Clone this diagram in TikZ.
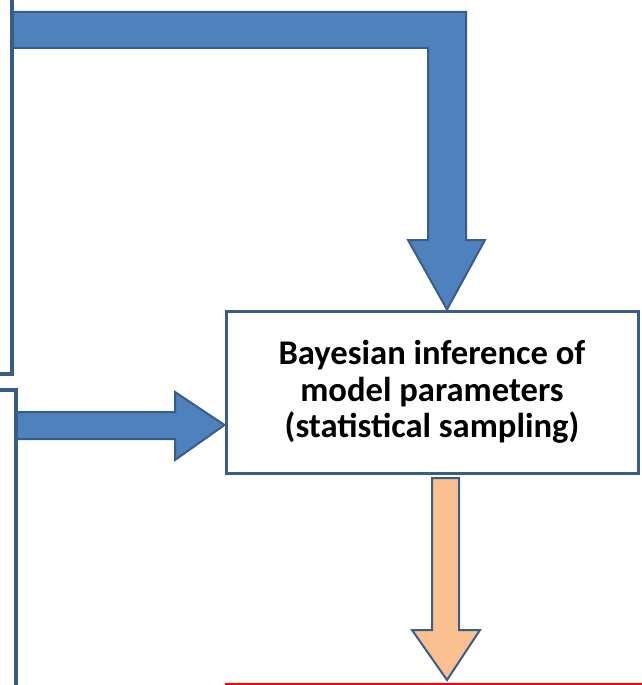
\documentclass[tikz,border=0pt]{standalone}
\usepackage{fontspec}
\setmainfont{Carlito}
\definecolor{arrowblue}{HTML}{4F81BD}
\definecolor{edgeblue}{HTML}{385D8A}
\definecolor{arroworange}{HTML}{FAC090}
\definecolor{redline}{HTML}{FF0000}
\begin{document}
\begin{tikzpicture}[x=1pt,y=-1pt,
  blockarrow/.style={fill=arrowblue,draw=edgeblue,line width=2pt,line join=miter},
  orangearrow/.style={fill=arroworange,draw=edgeblue,line width=2pt,line join=miter},
  framebox/.style={draw=edgeblue,line width=3pt,fill=white},
  partbox/.style={draw=edgeblue,line width=4pt}]
\useasboundingbox (0,0) rectangle (641,685);
% main box
\node[framebox,minimum width=412pt,minimum height=162pt,inner sep=0pt,
      align=center,font=\bfseries\fontsize{34.6}{36.5}\selectfont] (b) at (432,392)
  {Bayesian inference of\\model parameters\\(statistical sampling)};
% partial boxes at the left edge
\coordinate (ulc) at (11.5,0);
\coordinate (ulb) at (11.5,374);
\coordinate (ule) at (-2,374);
\coordinate (llc) at (-2,390);
\coordinate (llt) at (15.5,390);
\coordinate (lle) at (15.5,690);
% top bent arrow
\draw[blockarrow] (12,12) -- (466,12) -- (466,240) -- (485,240) -- (b.north -| 447,0) -- (408,240) -- (428,240) -- (428,48) -- (12,48) -- cycle;
% middle arrow
\draw[blockarrow] (15,412) -- (175,412) -- (175,392) -- (b.west |- 0,425) -- (175,460) -- (175,439) -- (15,439) -- cycle;
% orange arrow
\coordinate (otip) at (447,680);
\draw[orangearrow] (432,478) -- (459,478) -- (459,630) -- (480,630) -- (otip) -- (412,630) -- (432,630) -- cycle;
\draw[partbox] (ulc) -- (ulb) -- (ule);
\draw[partbox] (llc) -- (llt) -- (lle);
% red line
\coordinate (r1) at (225,684);
\coordinate (r2) at (645,684);
\draw[redline,line width=1.8pt] (r1) -- (r2);
\end{tikzpicture}
\end{document}
